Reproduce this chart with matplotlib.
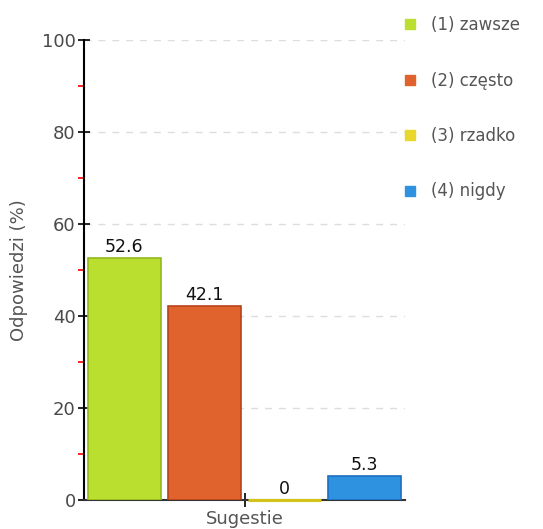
import matplotlib
matplotlib.use("Agg")
import matplotlib.pyplot as plt
from matplotlib.ticker import MultipleLocator
from matplotlib.lines import Line2D

categories = ["(1) zawsze", "(2) często", "(3) rzadko", "(4) nigdy"]
values = [52.6, 42.1, 0, 5.3]
value_labels = ["52.6", "42.1", "0", "5.3"]
fills = ["#bbdf2e", "#e0622d", "#e8d82b", "#2f92e0"]
edges = ["#93b81c", "#b8431a", "#d4c418", "#1c6fbf"]

plt.rcParams['font.family'] = ['DejaVu Sans']

fig = plt.figure(figsize=(5.43, 5.29), dpi=100)
ax = fig.add_axes([84/543, 29/529, (405-84)/543, (500-40)/529])

positions = [0.5, 1.5, 2.5, 3.5]
bars = ax.bar(positions, values, width=0.91, color=fills, edgecolor=edges,
              linewidth=1.2, zorder=3)
# zero-height bar drawn as a visible line just above the axis
bars[2].set_linewidth(2.2)
bars[2].set_clip_on(False)
bars[2].set_zorder(5)
for p, v, lab in zip(positions, values, value_labels):
    ax.text(p, v + 0.4, lab, ha='center', va='bottom', fontsize=12.5,
            color='#111111', zorder=4)

ax.set_xlim(0, 4)
ax.set_ylim(0, 100)
ax.yaxis.set_major_locator(MultipleLocator(20))
ax.yaxis.set_minor_locator(MultipleLocator(10))
ax.set_xticks([2])
ax.set_xticklabels([""])
ax.tick_params(axis='y', which='major', direction='inout', length=8, width=1.2,
               color='black', labelsize=13, labelcolor='#4a4a4a', pad=2)
ax.tick_params(axis='y', which='minor', direction='out', length=4, width=1.2,
               color='red')
ax.tick_params(axis='x', which='major', direction='inout', length=10, width=1.2,
               color='black')
ax.yaxis.grid(True, which='major', linestyle=(0, (5, 5)), color='#dddddd',
              linewidth=1, zorder=0)
for s in ['top', 'right']:
    ax.spines[s].set_visible(False)
ax.spines['left'].set_color('black')
ax.spines['left'].set_linewidth(1.5)
ax.spines['bottom'].set_color('#333333')
ax.spines['bottom'].set_linewidth(1.5)

ax.set_ylabel("Odpowiedzi (%)", fontsize=13, color='#555555', labelpad=10)
ax.set_xlabel("Sugestie", fontsize=13, color='#555555', labelpad=-1)

handles = [Line2D([0], [0], marker='s', linestyle='none', markersize=7,
                  markerfacecolor=c, markeredgecolor=c) for c in fills]
fig.legend(handles, categories, loc='upper left',
           bbox_to_anchor=(387/543, 1 - 1/529), frameon=False,
           labelspacing=2.25, handletextpad=0.75, fontsize=12,
           labelcolor='#555555', handlelength=1.0)

fig.savefig("out.png", dpi=100)
